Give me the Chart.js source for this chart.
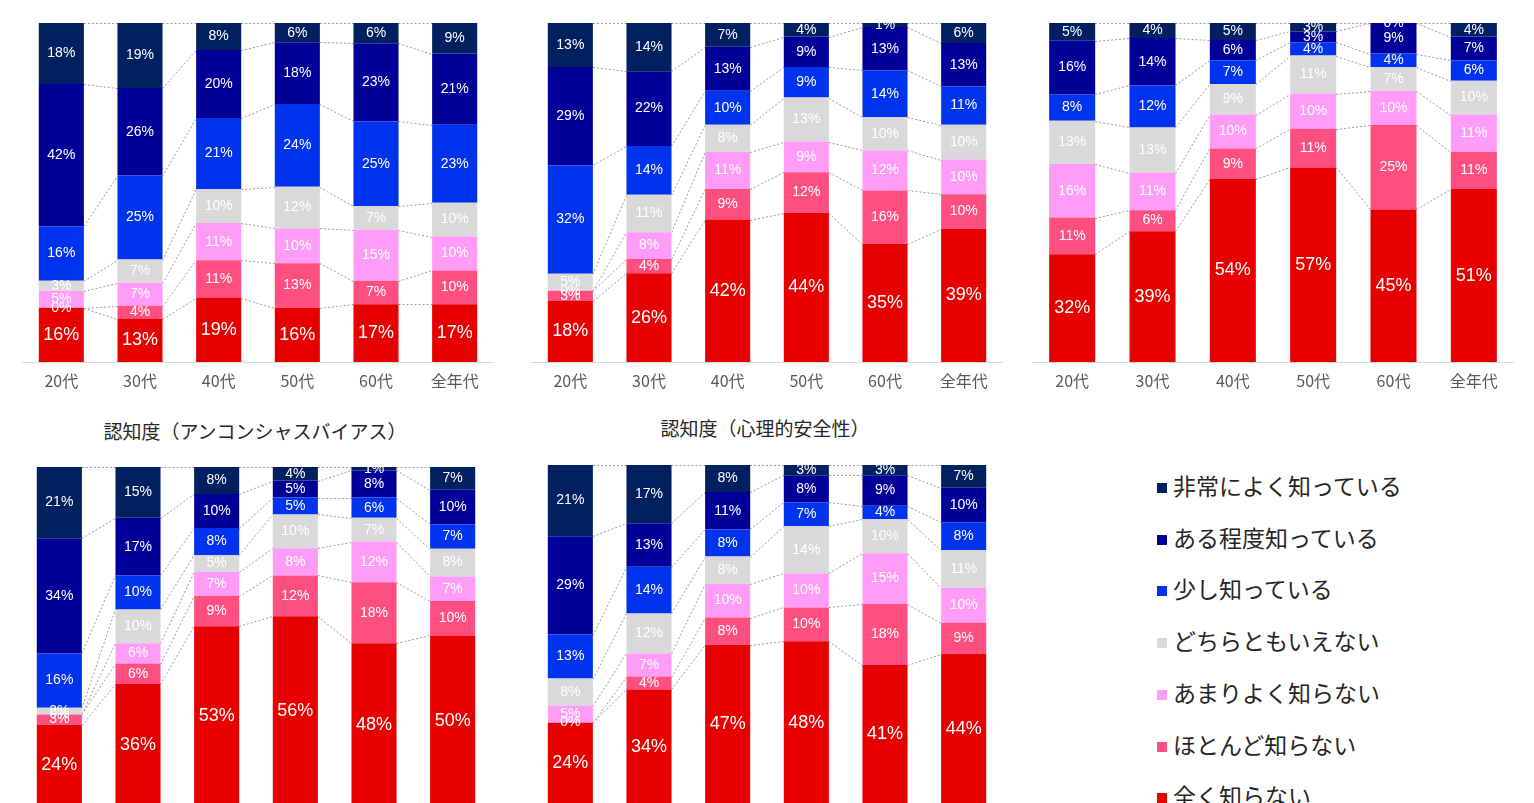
<!DOCTYPE html>
<html lang="ja">
<head>
<meta charset="utf-8">
<title>認知度</title>
<script src="https://cdn.jsdelivr.net/npm/chart.js@4.4.1/dist/chart.umd.min.js"></script>
<style>
    html, body { margin: 0; padding: 0; background: #fff; width: 1534px; height: 803px; overflow: hidden; }
    canvas { position: absolute; }
    .title {
        position: absolute;
        font-family: "Noto Sans CJK JP", sans-serif;
        font-size: 19px;
        line-height: 20px;
        color: #262626;
        white-space: nowrap;
        transform: translateX(-50%);
    }
    .legend-item {
        position: absolute;
        left: 1157px;
        height: 30px;
        line-height: 30px;
        font-family: "Noto Sans CJK JP", sans-serif;
        font-size: 23px;
        color: #262626;
        white-space: nowrap;
    }
    .legend-item span {
        display: inline-block;
        width: 10px;
        height: 10px;
        margin-right: 6px;
        vertical-align: 2px;
    }
</style>
</head>
<body>
<canvas id="chart1" width="472" height="400" style="left:22px; top:0px"></canvas>
<canvas id="chart2" width="472" height="400" style="left:531px; top:0px"></canvas>
<canvas id="chart3" width="482" height="400" style="left:1032px; top:0px"></canvas>
<div class="title" style="left:255px; top:421px">認知度（アンコンシャスバイアス）</div>
<div class="title" style="left:765px; top:418px">認知度（心理的安全性）</div>
<canvas id="chart4" width="472" height="400" style="left:20px; top:444px"></canvas>
<canvas id="chart5" width="472" height="400" style="left:531px; top:442px"></canvas>
<div id="legend"></div>

<script>
const ages = ['20代', '30代', '40代', '50代', '60代', '全年代'];
const levels = ['全く知らない', 'ほとんど知らない', 'あまりよく知らない', 'どちらともいえない', '少し知っている', 'ある程度知っている', '非常によく知っている'];
const levelColors = ['#E60000', '#FF4F81', '#FF9CF7', '#D9D9D9', '#0033EE', '#000099', '#002060'];

// rows follow levels (bottom to top), columns follow ages
// decimals are estimates where the printed (rounded) shares do not add up to 100
const chart1Values = [
    [16, 12.8, 19, 16.0, 17, 17],
    [0, 3.8, 11, 13.1, 7, 10],
    [5, 6.8, 11, 10.3, 15, 10],
    [3, 6.8, 10, 12.3, 7, 10],
    [16, 24.8, 21, 24.4, 25, 23],
    [42, 25.8, 20, 18.2, 23, 21],
    [18, 19.2, 8, 5.7, 6, 9],
];
const chart2Values = [
    [18, 26.2, 42, 44, 34.8, 39.3],
    [3, 4.2, 9, 12, 15.8, 10.2],
    [0, 7.9, 11, 9, 11.8, 10.2],
    [5, 11.0, 8, 13, 9.8, 10.3],
    [32, 14.4, 10, 9, 13.8, 11.3],
    [29, 22.1, 13, 9, 12.8, 12.8],
    [13, 14.2, 7, 4, 1.2, 5.9],
];
const chart3Values = [
    [31.8, 38.6, 54, 57.4, 45, 51],
    [10.8, 6.2, 9, 11.4, 25, 11],
    [15.8, 11.0, 10, 10.4, 10, 11],
    [12.8, 13.4, 9, 11.2, 7, 10],
    [7.8, 12.4, 7, 3.9, 4, 6],
    [15.8, 14.0, 6, 3.2, 9, 7],
    [5.2, 4.4, 5, 2.5, 0, 4],
];
const chart4Values = [
    [24, 36, 53, 56, 48, 50.3],
    [3, 6, 9, 12, 18, 10.2],
    [0, 6, 7, 8, 12, 7.2],
    [2, 10, 5, 10, 7, 8.2],
    [16, 10, 8, 5, 6, 7.2],
    [34, 17, 10, 5, 8, 10.2],
    [21, 15, 8, 4, 1, 6.7],
];
const chart5Values = [
    [24, 33.8, 47, 48, 41, 44.3],
    [0, 3.8, 8, 10, 18, 9.2],
    [5, 6.8, 10, 10, 15, 10.2],
    [8, 11.8, 8, 14, 10, 11.2],
    [13, 13.8, 8, 7, 4, 8.2],
    [29, 12.8, 11, 8, 9, 10.2],
    [21, 17.2, 8, 3, 3, 6.7],
];

// dotted lines joining the segment tops of neighbouring bars
const connectorLines = {
    id: 'connectorLines',
    beforeDatasetsDraw(chart) {
        const ctx = chart.ctx;
        const top = chart.chartArea.top;
        ctx.save();
        ctx.strokeStyle = '#9a9a9a';
        ctx.lineWidth = 1;
        ctx.setLineDash([2, 2]);
        chart.data.datasets.forEach((ds, i) => {
            const bars = chart.getDatasetMeta(i).data;
            for (let j = 0; j < bars.length - 1; j++) {
                const a = bars[j];
                const b = bars[j + 1];
                ctx.beginPath();
                ctx.moveTo(a.x + a.width / 2, Math.round(Math.max(a.y, top)) + 0.5);
                ctx.lineTo(b.x - b.width / 2, Math.round(Math.max(b.y, top)) + 0.5);
                ctx.stroke();
            }
        });
        ctx.restore();
    }
};

const segmentLabels = {
    id: 'segmentLabels',
    afterDatasetsDraw(chart) {
        const ctx = chart.ctx;
        const top = chart.chartArea.top;
        ctx.save();
        ctx.fillStyle = '#ffffff';
        ctx.textAlign = 'center';
        ctx.textBaseline = 'middle';
        chart.data.datasets.forEach((ds, i) => {
            ctx.font = (i === 0 ? '18px' : '14px') + ' "Liberation Sans", Arial, sans-serif';
            chart.getDatasetMeta(i).data.forEach((bar, j) => {
                const y = (Math.max(bar.y, top) + bar.base) / 2;
                ctx.fillText(Math.round(ds.data[j]) + '%', bar.x, y);
            });
        });
        ctx.restore();
    }
};

function renderChart(id, values) {
    new Chart(document.getElementById(id).getContext('2d'), {
        type: 'bar',
        data: {
            labels: ages,
            datasets: values.map((row, i) => ({
                label: levels[i],
                data: row,
                backgroundColor: levelColors[i],
                borderWidth: 0,
                barPercentage: 0.573,
                categoryPercentage: 1,
            })),
        },
        options: {
            responsive: false,
            animation: false,
            devicePixelRatio: 1,
            layout: {
                padding: { top: 23, left: 0, right: 0, bottom: 0 },
            },
            plugins: {
                legend: { display: false },
                tooltip: { enabled: false },
            },
            scales: {
                x: {
                    stacked: true,
                    grid: { display: false, drawTicks: false },
                    border: { color: '#d9d9d9', width: 1 },
                    ticks: {
                        color: '#595959',
                        padding: 9,
                        font: { family: '"Noto Sans CJK JP", sans-serif', size: 16 },
                    },
                    afterFit: scale => {
                        scale.height = 38;
                    },
                },
                y: {
                    stacked: true,
                    display: false,
                    min: 0,
                    max: 100,
                },
            },
        },
        plugins: [connectorLines, segmentLabels],
    });
}

renderChart('chart1', chart1Values);
renderChart('chart2', chart2Values);
renderChart('chart3', chart3Values);
renderChart('chart4', chart4Values);
renderChart('chart5', chart5Values);

// legend, top item first
const legend = document.getElementById('legend');
for (let i = levels.length - 1, k = 0; i >= 0; i--, k++) {
    const item = document.createElement('div');
    item.className = 'legend-item';
    item.style.top = (485 + k * 51.7 - 15) + 'px';
    const box = document.createElement('span');
    box.style.background = levelColors[i];
    item.appendChild(box);
    item.appendChild(document.createTextNode(levels[i]));
    legend.appendChild(item);
}
</script>
</body>
</html>
